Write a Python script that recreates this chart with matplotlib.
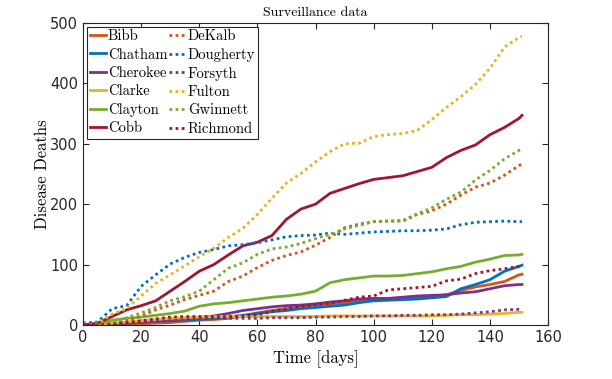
import matplotlib.pyplot as plt

days = list(range(0, 151, 5)) + [151]

bibb = [0, 0, 0, 1, 2, 3, 4, 6, 8, 9, 11, 15, 20, 24, 27, 30, 33, 35, 37, 40, 41, 43, 44, 45, 46, 50, 57, 63, 67, 72, 83, 84]
chatham = [0, 0, 1, 3, 4, 6, 7, 8, 9, 11, 13, 16, 19, 22, 24, 27, 29, 31, 33, 37, 40, 41, 42, 43, 45, 47, 60, 67, 75, 89, 97, 99]
cherokee = [0, 0, 2, 3, 5, 7, 9, 11, 12, 15, 19, 24, 27, 30, 32, 33, 35, 38, 40, 43, 44, 44, 46, 48, 49, 50, 53, 55, 60, 65, 67, 67]
clarke = [0, 1, 3, 5, 7, 9, 11, 12, 13, 14, 14, 14, 14, 14, 14, 14, 14, 15, 15, 15, 15, 15, 15, 15, 15, 16, 17, 17, 18, 19, 21, 21]
clayton = [0, 2, 8, 11, 13, 16, 19, 23, 31, 35, 37, 40, 43, 46, 48, 51, 56, 70, 75, 78, 81, 81, 82, 85, 88, 93, 97, 104, 109, 115, 116, 117]
cobb = [0, 3, 14, 25, 32, 40, 56, 72, 89, 100, 116, 131, 137, 148, 175, 192, 200, 218, 226, 234, 241, 244, 247, 254, 261, 277, 289, 298, 315, 327, 342, 347]
dekalb = [0, 0, 2, 7, 15, 25, 33, 42, 49, 56, 72, 81, 95, 107, 115, 121, 132, 145, 161, 167, 171, 172, 172, 183, 189, 200, 215, 228, 235, 248, 264, 266]
dougherty = [3, 5, 27, 32, 64, 83, 101, 112, 120, 125, 131, 133, 136, 141, 146, 148, 149, 152, 150, 152, 154, 155, 156, 156, 157, 159, 166, 170, 171, 172, 171, 171]
forsyth = [0, 0, 2, 3, 5, 6, 7, 9, 10, 11, 11, 11, 11, 12, 12, 12, 13, 13, 14, 14, 15, 15, 16, 16, 17, 17, 18, 20, 22, 25, 26, 26]
fulton = [0, 2, 18, 27, 48, 69, 83, 98, 113, 127, 145, 160, 183, 210, 235, 251, 270, 287, 300, 301, 312, 315, 317, 322, 340, 360, 378, 398, 425, 460, 476, 478]
gwinnett = [0, 0, 3, 12, 20, 29, 40, 47, 56, 75, 94, 103, 117, 126, 129, 135, 143, 150, 159, 165, 171, 172, 173, 184, 194, 208, 220, 240, 256, 275, 289, 291]
richmond = [0, 0, 1, 4, 7, 10, 13, 14, 14, 14, 14, 15, 17, 22, 27, 31, 34, 36, 41, 46, 48, 58, 60, 62, 64, 73, 76, 85, 90, 93, 97, 98]

solid_names = ['Bibb', 'Chatham', 'Cherokee', 'Clarke', 'Clayton', 'Cobb']
dotted_names = ['DeKalb', 'Dougherty', 'Forsyth', 'Fulton', 'Gwinnett', 'Richmond']
solid_series = [bibb, chatham, cherokee, clarke, clayton, cobb]
dotted_series = [dekalb, dougherty, forsyth, fulton, gwinnett, richmond]

# matlab default color order
colors = ['#D95319', '#0072BD', '#7E2F8E', '#EDB120', '#77AC30', '#A2142F']

serif = 'cmr10'

fig = plt.figure(figsize=(6.12, 3.79), dpi=100)
ax = fig.add_axes([0.1356, 0.1425, 0.76, 0.797])

for name, vals, c in zip(solid_names, solid_series, colors):
    ax.plot(days, vals, color=c, lw=2, label=name)
for name, vals, c in zip(dotted_names, dotted_series, colors):
    ax.plot(days, vals, color=c, lw=2, ls=(0, (1, 1.2)), label=name)

ax.set_xlim(0, 160)
ax.set_ylim(0, 500)
ax.set_xticks(range(0, 161, 20))
ax.set_yticks(range(0, 501, 100))
ax.tick_params(direction='in', top=True, right=True, length=4, labelsize=10.5,
               color='#262626', labelcolor='#262626')
for s in ax.spines.values():
    s.set_color('#262626')
    s.set_linewidth(0.8)

ax.set_title('Surveillance data', fontfamily=serif, fontsize=10, pad=5)
ax.set_xlabel('Time [days]', fontfamily=serif, fontsize=12, labelpad=4)
ax.set_ylabel('Disease Deaths', fontfamily=serif, fontsize=12, labelpad=0)

leg = ax.legend(ncol=2, loc='upper left', prop={'family': serif, 'size': 10.5},
                handlelength=1.1, handletextpad=0.15, columnspacing=0.15,
                labelspacing=0.32, borderpad=0.2, borderaxespad=0.25,
                fancybox=False, framealpha=1, edgecolor='#262626')
leg.get_frame().set_linewidth(0.8)

fig.savefig('out.png', dpi=100)
